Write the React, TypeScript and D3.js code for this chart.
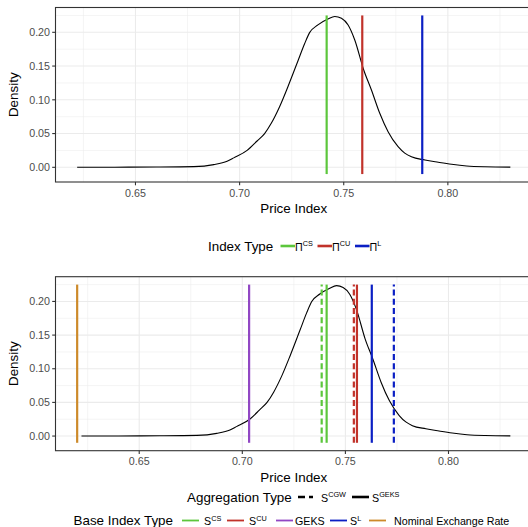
import React from "react";
import * as d3 from "d3";

// kernel density of the simulated price index
const priceGrid = [0.622, 0.640, 0.660, 0.678, 0.6876, 0.694, 0.6972, 0.7036, 0.7084, 0.712, 0.7152, 0.7192, 0.7232, 0.728, 0.7312, 0.7336, 0.7376, 0.7424, 0.7457, 0.7489, 0.7521, 0.7553, 0.7596, 0.7633, 0.7673, 0.7713, 0.7761, 0.7793, 0.7825, 0.789, 0.7954, 0.8018, 0.809, 0.8178, 0.830];
const densityValues = [0.0000, 0.0002, 0.0004, 0.0010, 0.0040, 0.0090, 0.0140, 0.0250, 0.0390, 0.0500, 0.0652, 0.0898, 0.1194, 0.1575, 0.1830, 0.1995, 0.2110, 0.2197, 0.2235, 0.2207, 0.2108, 0.1886, 0.1441, 0.1145, 0.0800, 0.0527, 0.0305, 0.0210, 0.0155, 0.0108, 0.0075, 0.0045, 0.0020, 0.0008, 0.0003];

// top panel: index types
const indexTypes = ["CS", "CU", "L"];
const indexValues = [0.7418, 0.7589, 0.7877];

// bottom panel: base index types x aggregation types
const baseTypes = ["CS", "CU", "GEKS", "L", "Nominal Exchange Rate"];
const gekAggValues = [0.7409, 0.7556, 0.7033, 0.7628, 0.6199];
const cgwAggValues = [0.7385, 0.7541, null, 0.7735, null];

const xTicks = [0.65, 0.70, 0.75, 0.80];
const yTicks = [0, 0.05, 0.1, 0.15, 0.2];
const lineTop = 0.225;
const lineBottom = -0.01;

const colors: Record<string, string> = {
  CS: "#5CC63C",
  CU: "#C1322A",
  GEKS: "#9147C4",
  L: "#0B1FC4",
  "Nominal Exchange Rate": "#CD8A2A",
};

const W = 528;
const H = 527;
const left = 55.5;
const right = 532;
const font = "Liberation Sans, Arial, sans-serif";

function expand(lo: number, hi: number) {
  const e = (hi - lo) * 0.05;
  return [lo - e, hi + e];
}

const densityData = priceGrid.map((p, i) => ({ p, d: densityValues[i] }));

function Panel({ top, bottom, xMin, children }: any) {
  const x = d3.scaleLinear().domain(expand(xMin, d3.max(priceGrid)!)).range([left, right]);
  const y = d3.scaleLinear().domain(expand(lineBottom, lineTop)).range([bottom, top]);
  const line = d3.line<any>().x(d => x(d.p)).y(d => y(d.d)).curve(d3.curveMonotoneX);
  const xMinor = d3.range(0.625, 0.84, 0.05);
  const yMinor = d3.range(0.025, 0.23, 0.05);
  return (
    <g>
      <rect x={left} y={top} width={right - left} height={bottom - top} fill="white" />
      {xMinor.map(v => <line key={"xm" + v} x1={x(v)} x2={x(v)} y1={top} y2={bottom} stroke="#EBEBEB" strokeWidth={0.55} />)}
      {yMinor.map(v => <line key={"ym" + v} x1={left} x2={right} y1={y(v)} y2={y(v)} stroke="#EBEBEB" strokeWidth={0.55} />)}
      {xTicks.map(v => <line key={"xg" + v} x1={x(v)} x2={x(v)} y1={top} y2={bottom} stroke="#EBEBEB" strokeWidth={1.1} />)}
      {yTicks.map(v => <line key={"yg" + v} x1={left} x2={right} y1={y(v)} y2={y(v)} stroke="#EBEBEB" strokeWidth={1.1} />)}
      <path d={line(densityData)!} fill="none" stroke="black" strokeWidth={1.1} />
      {children(x, y)}
      <rect x={left} y={top} width={right - left} height={bottom - top} fill="none" stroke="#333333" strokeWidth={1.1} />
      {yTicks.map(v => (
        <g key={"yt" + v}>
          <line x1={left - 3.3} x2={left} y1={y(v)} y2={y(v)} stroke="#333333" strokeWidth={1.1} />
          <text x={left - 5.5} y={y(v)} dy="0.35em" textAnchor="end" fontSize={10.7} fill="#4D4D4D">{d3.format(".2f")(v)}</text>
        </g>
      ))}
      {xTicks.map(v => (
        <g key={"xt" + v}>
          <line x1={x(v)} x2={x(v)} y1={bottom} y2={bottom + 3.3} stroke="#333333" strokeWidth={1.1} />
          <text x={x(v)} y={bottom + 14.5} textAnchor="middle" fontSize={10.7} fill="#4D4D4D">{d3.format(".2f")(v)}</text>
        </g>
      ))}
      <text x={(left + right) / 2} y={bottom + 31} textAnchor="middle" fontSize={13.4} fill="black">Price Index</text>
      <text transform={`translate(${17.5},${(top + bottom) / 2}) rotate(-90)`} textAnchor="middle" fontSize={13.4} fill="black">Density</text>
    </g>
  );
}

function Sup({ x, y, base, sup }: any) {
  return (
    <text x={x} y={y} fontSize={10.7} fill="black">
      {base}
      {sup ? <tspan fontSize={7.3} dy={-4.5}>{sup}</tspan> : null}
    </text>
  );
}

export default function App() {
  const topKeyX = [280.5, 317.5, 355];
  const aggKeyX = [298, 352];
  const baseKeyX = [182, 227, 276, 330, 369];
  const baseLabelX = [204, 249, 295, 350, 394];
  return (
    <svg width={W} height={H} style={{ position: "absolute", left: 0, top: 0, fontFamily: font }}>
      <rect width={W} height={H} fill="white" />
      <Panel top={7.5} bottom={182} xMin={d3.min(priceGrid)!}>
        {(x: any, y: any) => indexTypes.map((t, i) => (
          <line key={t} x1={x(indexValues[i])} x2={x(indexValues[i])} y1={y(lineBottom)} y2={y(lineTop)} stroke={colors[t]} strokeWidth={2.2} />
        ))}
      </Panel>

      {/* top legend */}
      <text x={208} y={250.5} fontSize={13.4}>Index Type</text>
      {indexTypes.map((t, i) => (
        <g key={t}>
          <line x1={topKeyX[i]} x2={topKeyX[i] + 14.5} y1={246} y2={246} stroke={colors[t]} strokeWidth={2.6} />
          <Sup x={topKeyX[i] + 14.5} y={250.5} base={"Π"} sup={t} />
        </g>
      ))}

      <Panel top={276.7} bottom={450.7} xMin={d3.min(gekAggValues.filter(v => v != null) as number[])!}>
        {(x: any, y: any) => (
          <g>
            {baseTypes.map((t, i) => cgwAggValues[i] == null ? null : (
              <line key={"c" + t} x1={x(cgwAggValues[i])} x2={x(cgwAggValues[i])} y1={y(lineBottom)} y2={y(lineTop)} stroke={colors[t]} strokeWidth={2.2} strokeDasharray="6 3.2" />
            ))}
            {baseTypes.map((t, i) => (
              <line key={"g" + t} x1={x(gekAggValues[i])} x2={x(gekAggValues[i])} y1={y(lineBottom)} y2={y(lineTop)} stroke={colors[t]} strokeWidth={2.2} />
            ))}
          </g>
        )}
      </Panel>

      {/* aggregation legend */}
      <text x={187} y={501.5} fontSize={13.4}>Aggregation Type</text>
      <line x1={aggKeyX[0]} x2={aggKeyX[0] + 15} y1={497} y2={497} stroke="black" strokeWidth={2.6} strokeDasharray="7 4" />
      <Sup x={321} y={501.5} base="S" sup="CGW" />
      <line x1={aggKeyX[1]} x2={aggKeyX[1] + 17} y1={497} y2={497} stroke="black" strokeWidth={2.6} />
      <Sup x={372} y={501.5} base="S" sup="GEKS" />

      {/* base index legend */}
      <text x={73.5} y={525} fontSize={13.4}>Base Index Type</text>
      {baseTypes.map((t, i) => (
        <g key={"b" + t}>
          <line x1={baseKeyX[i]} x2={baseKeyX[i] + 17} y1={520.5} y2={520.5} stroke={colors[t]} strokeWidth={1.8} />
          {t === "GEKS" || t.length > 4
            ? <Sup x={baseLabelX[i]} y={525} base={t} />
            : <Sup x={baseLabelX[i]} y={525} base="S" sup={t} />}
        </g>
      ))}
    </svg>
  );
}
